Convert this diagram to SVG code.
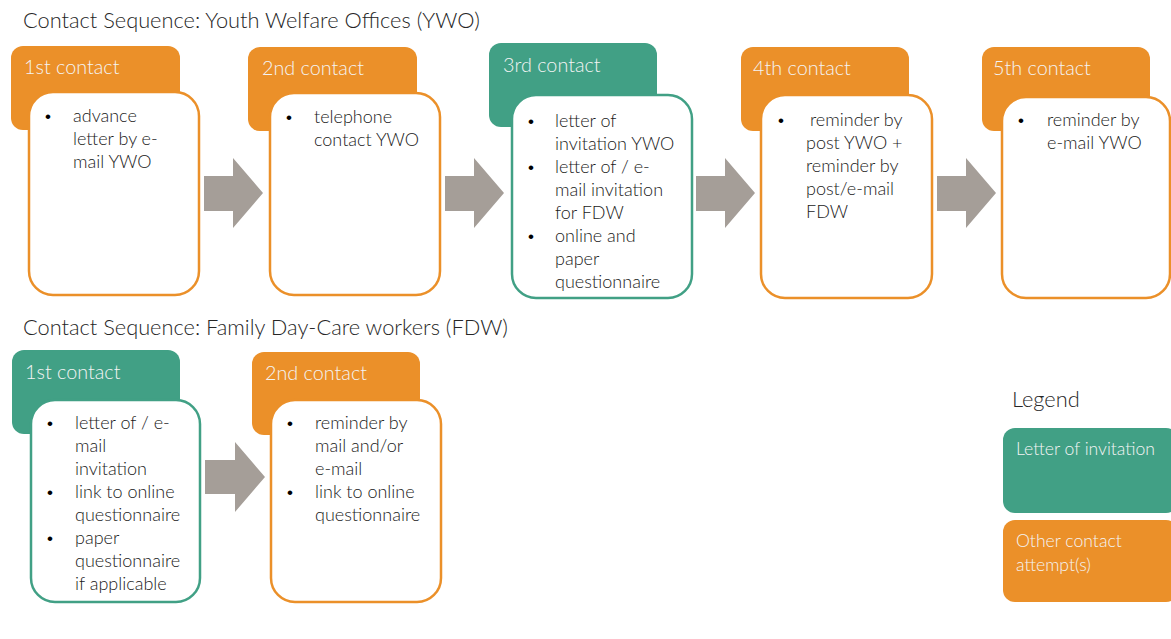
<svg xmlns="http://www.w3.org/2000/svg" width="1171" height="639" viewBox="0 0 1171 639">
<style>
.bg{fill:#ffffff}
.title{font-family:Lato,"Source Sans Pro","Liberation Sans",sans-serif;font-size:21.8px;fill:#262626;font-weight:300}
.hdr-o{fill:#EB9029}
.hdr-g{fill:#41A085}
.body-o{fill:#ffffff;stroke:#EB9029;stroke-width:2.5}
.body-g{fill:#ffffff;stroke:#41A085;stroke-width:2.5}
.htxt{font-family:Lato,"Source Sans Pro","Liberation Sans",sans-serif;font-size:19.8px;fill:#F4F4F4;font-weight:300}
.ltxt{font-family:Lato,"Source Sans Pro","Liberation Sans",sans-serif;font-size:17.6px;fill:#F4F4F4;font-weight:300}
.btxt{font-family:Lato,"Source Sans Pro","Liberation Sans",sans-serif;font-size:18px;fill:#1a1a1a;font-weight:300}
.bul{font-family:"Liberation Sans",sans-serif;font-size:17px;fill:#000000}
.arrow{fill:#A59E98}
</style>
<rect class="bg" x="0" y="0" width="1171" height="639"/>
<text class="title" x="23" y="28">Contact Sequence: Youth Welfare Offices (YWO)</text>
<text class="title" x="23" y="335">Contact Sequence: Family Day-Care workers (FDW)</text>

<g id="connectors">
<path class="arrow" d="M204,176 H233 V158 L263,193 L233,228 V211 H204 Z"/>
<path class="arrow" d="M445,176 H474 V158 L504,193 L474,228 V211 H445 Z"/>
<path class="arrow" d="M696,176 H725 V158 L755,193 L725,228 V211 H696 Z"/>
<path class="arrow" d="M937,176 H966 V158 L996,193 L966,228 V211 H937 Z"/>
<path class="arrow" d="M205,460 H235 V442 L265,477 L235,512 V494 H205 Z"/>
</g>

<g id="ywo1">
<rect class="hdr-o" x="11" y="46" width="169" height="84" rx="12"/>
<text class="htxt" x="24" y="74">1st contact</text>
<rect class="body-o" x="29" y="92" width="170" height="203" rx="24"/>
<text class="bul" x="45" y="122">•</text>
<text class="btxt" x="73" y="122">advance</text>
<text class="btxt" x="73" y="145">letter by e-</text>
<text class="btxt" x="73" y="168">mail YWO</text>
</g>

<g id="ywo2">
<rect class="hdr-o" x="248" y="47" width="169" height="84" rx="12"/>
<text class="htxt" x="262" y="75">2nd contact</text>
<rect class="body-o" x="270" y="93" width="170" height="202" rx="24"/>
<text class="bul" x="286" y="123">•</text>
<text class="btxt" x="314" y="123">telephone</text>
<text class="btxt" x="314" y="146">contact YWO</text>
</g>

<g id="ywo3">
<rect class="hdr-g" x="489" y="43" width="168" height="84" rx="12"/>
<text class="htxt" x="503" y="72">3rd contact</text>
<rect class="body-g" x="512" y="95" width="180" height="203" rx="24"/>
<text class="bul" x="528" y="127">•</text>
<text class="btxt" x="555" y="127">letter of</text>
<text class="btxt" x="555" y="150">invitation YWO</text>
<text class="bul" x="528" y="173">•</text>
<text class="btxt" x="555" y="173">letter of / e-</text>
<text class="btxt" x="555" y="196">mail invitation</text>
<text class="btxt" x="555" y="219">for FDW</text>
<text class="bul" x="528" y="242">•</text>
<text class="btxt" x="555" y="242">online and</text>
<text class="btxt" x="555" y="265">paper</text>
<text class="btxt" x="555" y="288">questionnaire</text>
</g>

<g id="ywo4">
<rect class="hdr-o" x="741" y="47" width="168" height="84" rx="12"/>
<text class="htxt" x="753" y="75">4th contact</text>
<rect class="body-o" x="761" y="95" width="171" height="203" rx="24"/>
<text class="bul" x="778" y="126">•</text>
<text class="btxt" x="810" y="126">reminder by</text>
<text class="btxt" x="806" y="149">post YWO +</text>
<text class="btxt" x="806" y="172">reminder by</text>
<text class="btxt" x="806" y="195">post/e-mail</text>
<text class="btxt" x="806" y="218">FDW</text>
</g>

<g id="ywo5">
<rect class="hdr-o" x="982" y="47" width="168" height="84" rx="12"/>
<text class="htxt" x="993" y="75">5th contact</text>
<rect class="body-o" x="1002" y="97" width="168" height="201" rx="24"/>
<text class="bul" x="1018" y="126">•</text>
<text class="btxt" x="1047" y="126">reminder by</text>
<text class="btxt" x="1047" y="149">e-mail YWO</text>
</g>

<g id="fdw1">
<rect class="hdr-g" x="12" y="350" width="168" height="84" rx="12"/>
<text class="htxt" x="25" y="379">1st contact</text>
<rect class="body-g" x="31" y="400" width="169" height="202" rx="24"/>
<text class="bul" x="47" y="429">•</text>
<text class="btxt" x="75" y="429">letter of / e-</text>
<text class="btxt" x="75" y="452">mail</text>
<text class="btxt" x="75" y="475">invitation</text>
<text class="bul" x="47" y="498">•</text>
<text class="btxt" x="75" y="498">link to online</text>
<text class="btxt" x="75" y="521">questionnaire</text>
<text class="bul" x="47" y="544">•</text>
<text class="btxt" x="75" y="544">paper</text>
<text class="btxt" x="75" y="567">questionnaire</text>
<text class="btxt" x="75" y="590">if applicable</text>
</g>

<g id="fdw2">
<rect class="hdr-o" x="252" y="352" width="168" height="83" rx="12"/>
<text class="htxt" x="265" y="380">2nd contact</text>
<rect class="body-o" x="271" y="400" width="170" height="202" rx="24"/>
<text class="bul" x="287" y="429">•</text>
<text class="btxt" x="315" y="429">reminder by</text>
<text class="btxt" x="315" y="452">mail and/or</text>
<text class="btxt" x="315" y="475">e-mail</text>
<text class="bul" x="287" y="498">•</text>
<text class="btxt" x="315" y="498">link to online</text>
<text class="btxt" x="315" y="521">questionnaire</text>
</g>

<g id="legend">
<text class="title" x="1012" y="407">Legend</text>
<rect class="hdr-g" x="1003" y="428" width="175" height="85" rx="12"/>
<text class="ltxt" x="1016" y="455">Letter of invitation</text>
<rect class="hdr-o" x="1003" y="520" width="175" height="82" rx="12"/>
<text class="ltxt" x="1016" y="547">Other contact</text>
<text class="ltxt" x="1016" y="571">attempt(s)</text>
</g>
</svg>
